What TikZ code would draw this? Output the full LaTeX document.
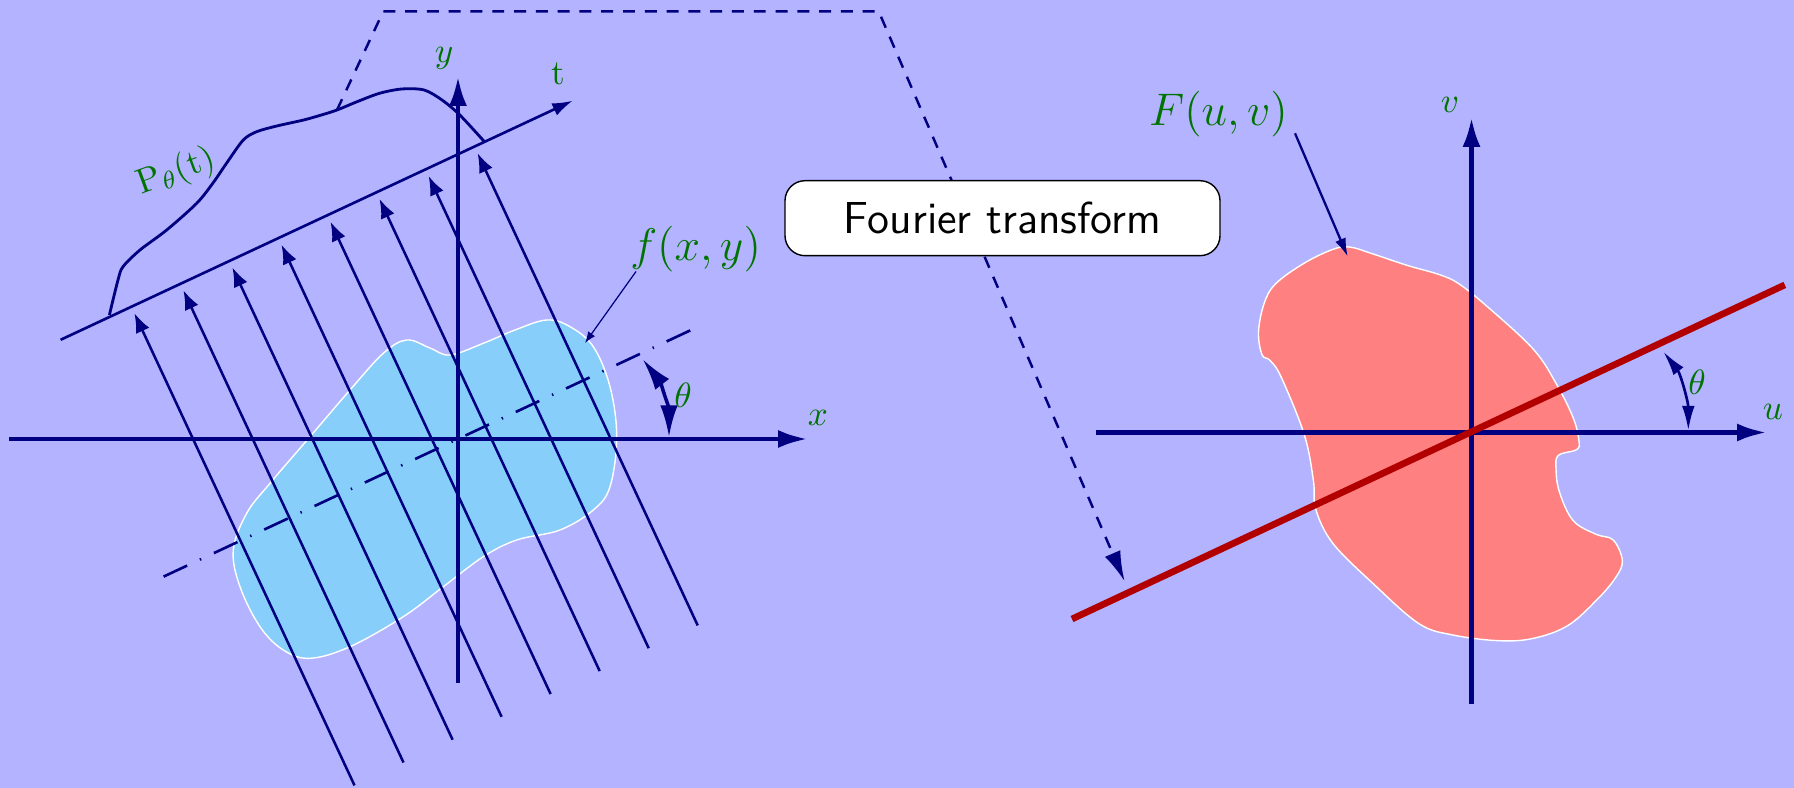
\RequirePackage{fix-cm}
\documentclass[tikz,border=0pt]{standalone}
\usetikzlibrary{arrows.meta}
\definecolor{bgc}{RGB}{179,179,255}
\definecolor{navyc}{RGB}{0,0,128}
\definecolor{skyc}{RGB}{135,206,250}
\definecolor{salmonc}{RGB}{255,128,128}
\definecolor{redc}{RGB}{178,0,0}
\definecolor{labc}{RGB}{0,115,0}
\begin{document}
\begin{tikzpicture}[x=0.1mm,y=-0.1mm,
  axis/.style={navyc, line width=1.4pt, -{Latex[length=8.5pt,width=5.1pt]}},
  ray/.style={navyc, line width=0.72pt, -{Latex[length=5.5pt,width=4.2pt]}},
  lab/.style={text=labc, font=\fontsize{10}{12}\selectfont, inner sep=0pt},
  biglab/.style={text=labc, font=\fontsize{13}{15}\selectfont, inner sep=0pt},
  blob/.style={draw=white, line width=0.4pt},
  thetaarc/.style={navyc, line width=1pt},
  pointer/.style={navyc, line width=0.65pt}]
\fill[bgc] (0,0) rectangle (1794,788);
\clip (0,0) rectangle (1794,788);
\coordinate (O1) at (458,439);
\coordinate (O2) at (1471.5,432.5);
% ---------- left panel ----------
\filldraw[blob, fill=skyc] plot[smooth cycle, tension=0.6] coordinates {
 (406.7,340) (430,348) (450,355) (483.3,343.3) (515,330) (546.7,320) (570,326.7)
 (593.3,346.7) (610,386.7) (616.7,436.7) (610,486.7) (593.3,510) (560,530)
 (516.7,540) (483.3,556.7) (443.3,586.7) (403.3,616.7) (350,646.7) (310,658.3)
 (283.3,650) (260,626.7) (240,586.7) (233.3,550) (246.7,513.3) (270,483.3)
 (310,436.7) (350,390) (383.3,353.3)};
% rays
\draw[ray] (354.5,785.4) -- (134.4,313.2);
\draw[ray] (403.5,762.5) -- (183.4,290.3);
\draw[ray] (452.6,739.7) -- (232.4,267.5);
\draw[ray] (501.6,716.8) -- (281.5,244.7);
\draw[ray] (550.6,694.0) -- (330.5,221.8);
\draw[ray] (599.7,671.1) -- (379.5,198.9);
\draw[ray] (648.7,648.2) -- (428.6,176.0);
\draw[ray] (697.7,625.4) -- (477.6,153.2);
% dash-dot line at angle theta
\draw[navyc, line width=0.75pt, dash pattern=on 7.4pt off 4pt on 0.4pt off 4pt]
  (163.6,576.6) -- (692.2,329.5);
% t axis
\coordinate (t0) at (60.6,339.8);
\coordinate (t1) at (572.7,100.7);
\draw[navyc, line width=0.75pt, -{Latex[length=5.8pt,width=3.8pt]}] (t0) -- (t1);
% projection curve
\draw[navyc, line width=0.8pt] plot[smooth, tension=0.5] coordinates {
 (109.4,315) (118,280) (123,266.7) (140,250) (166.7,230) (196.7,203.3)
 (213,183) (226.7,163) (243.3,140) (256.7,131.7)
 (276.8,126) (303.6,120) (321.4,115) (337,110) (357.1,101.7) (379.5,93.3)
 (401.8,89) (424.1,90) (442,100) (459.8,115) (484.4,141.7)};
% axes
\draw[axis] (9,439) -- (808,439);
\draw[axis] (458,683) -- (458,76);
% theta arc
\draw[thetaarc, {Latex[length=9pt,width=5pt]}-{Latex[length=9pt,width=5pt]}]
  (669,437) .. controls (669,409) and (659.9,381.4) .. (642.7,359.3);
% labels
\node[lab] (xl) at (818,418) {$x$};
\node[lab] (yl) at (444,58) {$y$};
\node[lab] (tl) at (558,74) {t};
\node[lab] (th1) at (683,395) {$\theta$};
\node[lab, rotate=20] (pl) at (176,172) {P$_\theta$(t)};
\node[biglab] (fl) at (695.6,249.4) {$f(x,y)$};
\draw[navyc, line width=0.35pt, -{Latex[length=3.2pt,width=2.4pt]}] (636,271.5) -- (585,343);
% dashed connector
\draw[navyc, line width=0.7pt, dash pattern=on 3.4pt off 2.8pt, -{Latex[length=8.5pt,width=4.8pt]}]
  (337,110) -- (383.3,11.4) -- (878.7,11.4) -- (1124.5,581);
\node[draw=black, fill=white, rounded corners=5.7pt, minimum width=43.5mm,
  minimum height=7.5mm, line width=0.4pt, inner sep=0pt,
  font=\sffamily\fontsize{12.75}{15}\selectfont] (ft) at (1002.5,218.2) {Fourier transform};
% ---------- right panel ----------
\filldraw[blob, fill=salmonc] plot[smooth cycle, tension=0.6] coordinates {
 (1350,247.1) (1373,254) (1407.3,265.4) (1439.3,274.6) (1458.7,283.7) (1487.3,306.6)
 (1533.1,349) (1556,383.3) (1573.1,417.6) (1578.9,440.5) (1576.6,449.6) (1558.3,455.4)
 (1556,469.1) (1559.4,492) (1573.1,520.6) (1596,534.3) (1613.2,540) (1622.3,560.6)
 (1615.5,577.8) (1596,600.7) (1567.4,625.8) (1533.1,638.4) (1498.8,640.7) (1453,635)
 (1418.7,623.5) (1373,583.5) (1332.9,543.4) (1315.7,509.1) (1313.4,480.5) (1304.3,434.8)
 (1281.4,377.6) (1270,360.4) (1262,354.7) (1258.5,331.8) (1264.2,303.2) (1275.7,283.7)
 (1304.3,263.1) (1332.9,249.4)};
\draw[axis] (1096,432.5) -- (1767,432.5);
\draw[axis] (1471.5,703.6) -- (1471.5,117);
\draw[redc, line width=1.9pt] (1072,619) -- (1784.8,284.9);
\draw[thetaarc, line width=0.75pt, {Latex[length=7pt,width=3.6pt]}-{Latex[length=7pt,width=3.6pt]}]
  (1688.3,430.5) .. controls (1688.3,402) and (1680.5,373.8) .. (1663.3,351.7);
\node[lab] (ul) at (1773,412) {$u$};
\node[lab] (vl) at (1450,105) {$v$};
\node[lab] (th2) at (1697,382) {$\theta$};
\node[biglab] (Fl) at (1218.5,114.4) {$F(u,v)$};
\draw[pointer, -{Latex[length=5.2pt,width=3.2pt]}] (1295,133.3) -- (1347.7,256.5);
\end{tikzpicture}
\end{document}
